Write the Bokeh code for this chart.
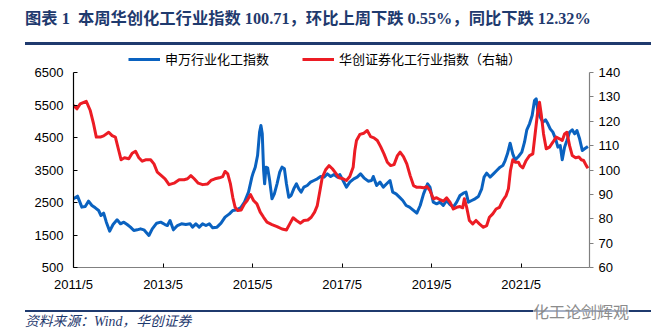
from bokeh.plotting import figure
from bokeh.layouts import column
from bokeh.models import (Range1d, LinearAxis, FixedTicker, Legend, LegendItem, Div)
from bokeh.embed import file_html
from bokeh.resources import INLINE

# ---------------- data (dates as decimal years) ----------------
blue_t = [2011.333, 2011.423, 2011.520, 2011.595, 2011.670, 2011.745, 2011.820, 2011.895,
          2011.947, 2012.007, 2012.067, 2012.142, 2012.217, 2012.307, 2012.382, 2012.457,
          2012.532, 2012.606, 2012.681, 2012.756, 2012.831, 2012.906, 2013.018, 2013.093,
          2013.191, 2013.281, 2013.378, 2013.430, 2013.490, 2013.565, 2013.655, 2013.745,
          2013.842, 2013.940, 2013.992, 2014.067, 2014.142, 2014.217, 2014.292, 2014.367,
          2014.442, 2014.539, 2014.629, 2014.719, 2014.816, 2014.891, 2014.988, 2015.078,
          2015.153, 2015.243, 2015.318, 2015.340, 2015.393, 2015.445, 2015.490, 2015.520,
          2015.550, 2015.580, 2015.603, 2015.633, 2015.670, 2015.715, 2015.767, 2015.820,
          2015.880, 2015.940, 2015.992, 2016.045, 2016.090, 2016.142, 2016.194, 2016.254,
          2016.314, 2016.367, 2016.419, 2016.479, 2016.554, 2016.629, 2016.704, 2016.779,
          2016.854, 2016.929, 2017.004, 2017.078, 2017.153, 2017.228, 2017.281, 2017.355,
          2017.430, 2017.505, 2017.595, 2017.670, 2017.745, 2017.820, 2017.917, 2017.992,
          2018.030, 2018.105, 2018.180, 2018.254, 2018.329, 2018.404, 2018.464, 2018.539,
          2018.614, 2018.689, 2018.764, 2018.839, 2018.914, 2019.003, 2019.078, 2019.153,
          2019.243, 2019.296, 2019.370, 2019.445, 2019.520, 2019.594, 2019.669, 2019.743,
          2019.818, 2019.893, 2019.967, 2020.042, 2020.102, 2020.154, 2020.229, 2020.303,
          2020.378, 2020.452, 2020.505, 2020.564, 2020.639, 2020.714, 2020.788, 2020.863,
          2020.923, 2020.975, 2021.027, 2021.087, 2021.146, 2021.199, 2021.273, 2021.348,
          2021.408, 2021.460, 2021.520, 2021.579, 2021.632, 2021.669, 2021.706, 2021.758,
          2021.818, 2021.878, 2021.930, 2021.982, 2022.042, 2022.102, 2022.154, 2022.206,
          2022.251, 2022.303, 2022.355, 2022.415, 2022.475, 2022.527, 2022.579, 2022.639,
          2022.699, 2022.751, 2022.825]
blue_v = [2613, 2695, 2357, 2377, 2541, 2408, 2336, 2254,
          2100, 2172, 1895, 1618, 1823, 1967, 1844, 1895,
          1823, 1741, 1638, 1659, 1690, 1659, 1485, 1690,
          1864, 1895, 1823, 1792, 1946, 1659, 1792, 1844,
          1823, 1844, 1741, 1844, 1741, 1844, 1792, 1844,
          1720, 1741, 1864, 2049, 2151, 2254, 2275, 2357,
          2510, 2818, 3280, 3382, 3587, 3946, 4664, 4869,
          4613, 3485, 3075, 3587, 3567, 3177, 2613, 2767,
          3075, 3433, 3587, 3536, 3075, 2664, 2716, 2921,
          3075, 2921, 2818, 2972, 3023, 3126, 3177, 3228,
          3300, 3280, 3382, 3300, 3362, 3280, 3362, 3177,
          2972, 3126, 3228, 3280, 3382, 3259, 3156, 3177,
          3300, 3023, 3126, 2972, 3075, 3177, 2818, 2767,
          2664, 2562, 2408, 2357, 2275, 2172, 2408, 2767,
          3075, 2972, 2510, 2459, 2510, 2408, 2562, 2438,
          2357, 2510, 2716, 2787, 2818, 2510, 2562, 2613,
          2685, 2921, 3280, 3403, 3280, 3382, 3485, 3587,
          3638, 3792, 3997, 4326, 3997, 3813, 3915, 4049,
          4356, 4736, 4921, 5177, 5638, 5690, 5331, 5126,
          4972, 5044, 4921, 4767, 4664, 4459, 4203, 4254,
          3813, 4203, 4408, 4664, 4736, 4613, 4715, 4459,
          4100, 4151, 4223]

red_t = [2011.333, 2011.408, 2011.483, 2011.618, 2011.708, 2011.782, 2011.843, 2011.932,
         2012.007, 2012.120, 2012.195, 2012.269, 2012.344, 2012.397, 2012.472, 2012.569,
         2012.644, 2012.719, 2012.794, 2012.869, 2012.944, 2013.056, 2013.131, 2013.206,
         2013.296, 2013.378, 2013.468, 2013.580, 2013.693, 2013.805, 2013.880, 2013.955,
         2014.030, 2014.120, 2014.217, 2014.329, 2014.404, 2014.494, 2014.591, 2014.666,
         2014.719, 2014.779, 2014.839, 2014.891, 2014.944, 2015.003, 2015.078, 2015.153,
         2015.213, 2015.288, 2015.355, 2015.430, 2015.505, 2015.580, 2015.655, 2015.767,
         2015.880, 2015.992, 2016.090, 2016.164, 2016.239, 2016.314, 2016.404, 2016.479,
         2016.569, 2016.644, 2016.719, 2016.779, 2016.839, 2016.891, 2016.966, 2017.041,
         2017.116, 2017.191, 2017.266, 2017.355, 2017.430, 2017.505, 2017.580, 2017.618,
         2017.655, 2017.730, 2017.820, 2017.895, 2017.970, 2018.045, 2018.120, 2018.194,
         2018.269, 2018.344, 2018.419, 2018.494, 2018.569, 2018.629, 2018.704, 2018.779,
         2018.854, 2018.929, 2019.003, 2019.078, 2019.153, 2019.228, 2019.296, 2019.370,
         2019.445, 2019.520, 2019.594, 2019.669, 2019.743, 2019.818, 2019.893, 2019.967,
         2020.027, 2020.064, 2020.116, 2020.176, 2020.251, 2020.325, 2020.400, 2020.490,
         2020.564, 2020.624, 2020.699, 2020.773, 2020.848, 2020.923, 2020.997, 2021.049,
         2021.094, 2021.146, 2021.199, 2021.273, 2021.310, 2021.370, 2021.445, 2021.520,
         2021.594, 2021.654, 2021.706, 2021.743, 2021.781, 2021.833, 2021.893, 2021.967,
         2022.042, 2022.116, 2022.191, 2022.251, 2022.303, 2022.355, 2022.415, 2022.475,
         2022.549, 2022.624, 2022.676, 2022.728, 2022.788, 2022.825]
red_v = [126.5, 125.1, 127.1, 128.2, 124.4, 118.9, 113.5, 113.5,
         114.0, 115.5, 114.1, 113.5, 108.0, 104.2, 105.0, 104.6,
         106.9, 107.7, 105.0, 103.6, 104.2, 104.2, 102.5, 99.1,
         97.7, 96.4, 94.0, 94.6, 96.0, 96.0, 96.4, 97.7,
         96.4, 94.6, 94.0, 94.3, 95.7, 96.4, 96.8, 97.3,
         99.4, 98.4, 94.3, 88.8, 84.7, 83.4, 83.6, 86.1,
         87.5, 89.9, 87.5, 86.1, 82.7, 80.6, 78.6, 77.6,
         76.8, 75.8, 75.4, 77.9, 80.4, 79.3, 78.2, 79.3,
         79.5, 80.6, 82.7, 85.4, 91.6, 97.0, 100.1, 101.8,
         100.5, 98.7, 96.8, 96.4, 95.7, 97.3, 101.1, 108.0,
         112.1, 114.6, 115.1, 116.2, 113.7, 113.2, 112.1, 109.6,
         106.6, 103.2, 101.8, 102.2, 105.9, 107.3, 105.5, 102.5,
         97.7, 93.6, 92.9, 92.9, 92.7, 93.2, 91.6, 88.2,
         88.6, 87.8, 87.2, 88.6, 86.8, 84.0, 84.7, 85.0,
         84.5, 88.2, 84.7, 79.3, 77.9, 79.3, 77.9, 76.5,
         77.2, 80.6, 82.0, 84.0, 84.7, 87.5, 89.5, 92.3,
         99.8, 104.2, 103.2, 103.2, 101.8, 100.9, 103.9, 105.9,
         106.6, 116.2, 124.4, 127.8, 123.0, 114.8, 108.7, 109.4,
         111.4, 113.5, 112.8, 112.1, 114.8, 115.5, 110.0, 105.9,
         105.0, 105.3, 104.2, 103.9, 101.8, 100.71]

tick_years = [2011, 2013, 2015, 2017, 2019, 2021]
tick_labels = ["2011/5", "2013/5", "2015/5", "2017/5", "2019/5", "2021/5"]
left_ticks = [500, 1500, 2500, 3500, 4500, 5500, 6500]
right_ticks = [60, 70, 80, 90, 100, 110, 120, 130, 140]

title_text = "图表 1&nbsp;&nbsp;本周华创化工行业指数 100.71，环比上周下跌 0.55%，同比下跌 12.32%"
blue_name = "申万行业化工指数"
red_name = "华创证券化工行业指数（右轴）"
source_text = "资料来源：Wind，华创证券"
mark_text = "化工论剑辉观"

# ---------------- layout ----------------
W = 651
TOP_H = 47          # title strip (html)
BOT_H = 34          # source strip (html)
MAIN_H = 334 - TOP_H - BOT_H
FL, FR = 73, 589     # frame left / right
Y_TOP_TICK, Y_BOT = 72, 267   # window y of 6500 tick and of frame bottom
START = 2011 + 4 / 12
END = 2022.86

NAVY = "#1F3A6E"
BLUE = "#0A62C0"
RED = "#EC1C24"


def to_m(yr):
    return (yr - START) * 12


# frame spans from the top of the chart block to the x axis; the value axes are
# bounded so that their lines stop at the top tick, like the reference
extra = (Y_TOP_TICK - TOP_H) / (Y_BOT - Y_TOP_TICK)   # fraction above top tick
l_lo, l_hi = left_ticks[0], left_ticks[-1]
r_lo, r_hi = right_ticks[0], right_ticks[-1]

p = figure(width=W, height=MAIN_H, output_backend="svg", toolbar_location=None,
           x_range=Range1d(0, to_m(END)),
           y_range=Range1d(l_lo, l_hi + (l_hi - l_lo) * extra),
           min_border_left=FL, min_border_right=W - FR,
           min_border_top=0, min_border_bottom=(TOP_H + MAIN_H) - Y_BOT)
p.title.visible = False
p.outline_line_color = None
p.xgrid.visible = False
p.ygrid.visible = False
p.background_fill_color = "white"
p.border_fill_color = "white"
p.extra_y_ranges = {"r": Range1d(r_lo, r_hi + (r_hi - r_lo) * extra)}

tick_m = [round(to_m(y + 4 / 12)) for y in tick_years]
xa = p.xaxis[0]
xa.ticker = FixedTicker(ticks=tick_m)
xa.major_label_overrides = {m: lab for m, lab in zip(tick_m, tick_labels)}
xa.axis_line_color = "#808080"
xa.major_tick_line_color = "#000000"
xa.major_tick_in = 4
xa.major_tick_out = 0
xa.minor_tick_line_color = None
xa.major_label_standoff = 9
xa.major_label_text_font = "Liberation Sans"
xa.major_label_text_font_size = "13px"
xa.major_label_text_color = "#000000"

ya = p.yaxis[0]
ya.ticker = FixedTicker(ticks=left_ticks)
ya.bounds = (l_lo, l_hi)
ya.axis_line_color = "#000000"
ya.axis_line_width = 1.2
ya.major_tick_line_color = "#000000"
ya.major_tick_in = 4
ya.major_tick_out = 0
ya.minor_tick_line_color = None
ya.major_label_standoff = 10
ya.major_label_text_font = "Liberation Sans"
ya.major_label_text_font_size = "13px"
ya.major_label_text_color = "#000000"

ra = LinearAxis(y_range_name="r", ticker=FixedTicker(ticks=right_ticks))
ra.bounds = (r_lo, r_hi)
ra.axis_line_color = "#808080"
ra.axis_line_width = 1.2
ra.major_tick_line_color = "#808080"
ra.major_tick_in = 0
ra.major_tick_out = 4
ra.minor_tick_line_color = None
ra.major_label_standoff = 5
ra.major_label_text_font = "Liberation Sans"
ra.major_label_text_font_size = "13px"
ra.major_label_text_color = "#000000"
p.add_layout(ra, "right")

bx = [to_m(t) for t in blue_t]
rx = [to_m(t) for t in red_t]
rb = p.line(bx, blue_v, line_color=BLUE, line_width=3, line_join="round")
rr = p.line(rx, red_v, y_range_name="r", line_color=RED, line_width=3, line_join="round")

# legend centred at window y=60, starting at window x=128
legend = Legend(items=[LegendItem(label=blue_name, renderers=[rb]),
                       LegendItem(label=red_name, renderers=[rr])],
                location=(128 - FL, Y_BOT - 68), orientation="horizontal",
                border_line_color=None, background_fill_alpha=0,
                padding=0, margin=0, spacing=33,
                glyph_width=32, glyph_height=16, label_height=16,
                label_standoff=5, label_text_font_size="13px",
                label_text_font="Noto Sans CJK SC", label_text_color="#000000")
p.add_layout(legend)

# ---- html strips for the title rule and the source line ----
title_html = (
    f'<div style="position:relative;width:{W}px;height:{TOP_H}px;overflow:hidden;">'
    f'<div style="position:absolute;left:25px;top:9px;white-space:nowrap;'
    f'font-family:\'Liberation Serif\',\'Noto Sans CJK SC\',serif;font-weight:bold;'
    f'font-size:16.3px;line-height:20px;color:{NAVY};">{title_text}</div>'
    f'<div style="position:absolute;left:25px;top:41.5px;width:{W - 25}px;height:3px;'
    f'background:{NAVY};"></div></div>')
foot_html = (
    f'<div style="position:relative;width:{W}px;height:{BOT_H}px;overflow:hidden;">'
    f'<div style="position:absolute;left:25px;top:10px;width:{W - 25}px;height:2px;'
    f'background:{NAVY};"></div>'
    f'<div style="position:absolute;left:25px;top:13px;white-space:nowrap;'
    f'font-family:\'Liberation Serif\',\'Noto Sans CJK SC\',serif;font-style:italic;'
    f'font-size:13.8px;line-height:18px;color:{NAVY};">{source_text}</div>'
    f'<div style="position:absolute;left:533px;top:0px;white-space:nowrap;'
    f'font-family:\'Noto Sans CJK SC\',sans-serif;font-size:16px;line-height:22px;'
    f'color:#8c8c8c;background:rgba(255,255,255,0.6);">{mark_text}</div></div>')

top = Div(text=title_html, width=W, height=TOP_H, margin=0)
bot = Div(text=foot_html, width=W, height=BOT_H, margin=0)

layout = column(top, p, bot, spacing=0)
open("out.html", "w").write(file_html(layout, INLINE))
